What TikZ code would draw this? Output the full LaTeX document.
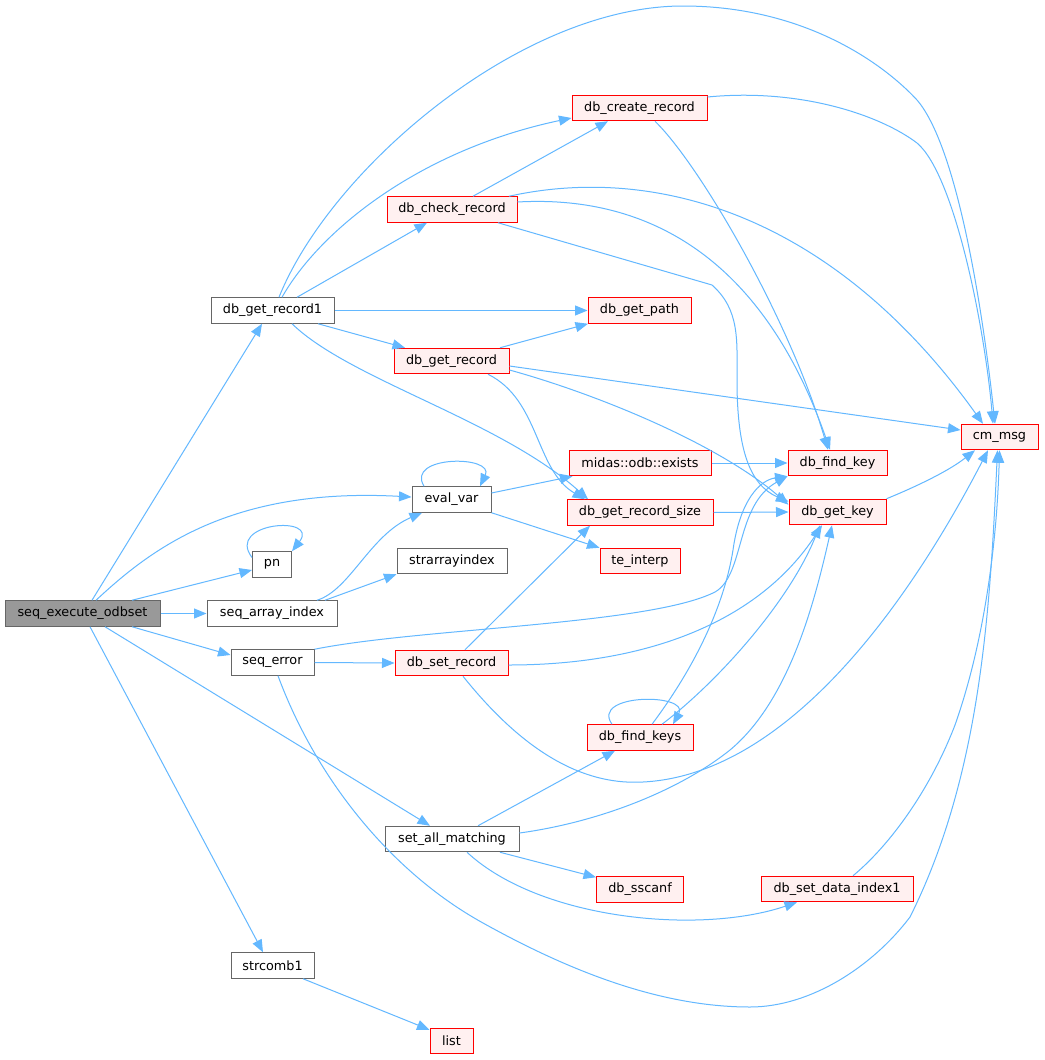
\documentclass[tikz,border=0pt]{standalone}
\usepackage{fontspec}
\setmainfont{DejaVu Sans}
\usetikzlibrary{arrows.meta}
\definecolor{edgeblue}{HTML}{63B8FF}
\definecolor{nodegray}{HTML}{666666}
\definecolor{rootfill}{HTML}{999999}
\definecolor{redfill}{HTML}{FFF0F0}
\begin{document}
\begin{tikzpicture}[x=1pt,y=-1pt,
  box/.style={draw=nodegray, fill=white, line width=1pt, minimum height=25.5pt,
    inner xsep=0pt, inner ysep=0pt, font=\fontsize{12.8}{15}\selectfont},
  rootbox/.style={box, fill=rootfill},
  redbox/.style={box, draw=red, fill=redfill},
  edge/.style={draw=edgeblue, line width=1pt, -{Triangle[length=12.5pt,width=10pt]}},
]
\fill[white] (0,0) rectangle (1044,1060);
\useasboundingbox (0,0) rectangle (1044,1060);

% nodes
\node[rootbox, minimum width=155pt] (S) at (82.5,613.5) {seq\_execute\_odbset};
\node[box, minimum width=123pt] (R1) at (272.5,310.5) {db\_get\_record1};
\node[box, minimum width=39pt] (pn) at (272,564.5) {pn};
\node[box, minimum width=130pt] (SA) at (272,613.5) {seq\_array\_index};
\node[box, minimum width=83pt] (SE) at (272.5,662.5) {seq\_error};
\node[box, minimum width=79pt] (EV) at (451.5,499.5) {eval\_var};
\node[box, minimum width=110pt] (SAI) at (452,561) {strarrayindex};
\node[box, minimum width=134pt] (SAM) at (452,839) {set\_all\_matching};
\node[box, minimum width=83pt] (SC) at (272.5,965.5) {strcomb1};
\node[redbox, minimum width=135pt] (CRe) at (639.5,108) {db\_create\_record};
\node[redbox, minimum width=130pt] (CR) at (452,209.5) {db\_check\_record};
\node[redbox, minimum width=103pt] (GP) at (639.5,310.5) {db\_get\_path};
\node[redbox, minimum width=115pt] (GR) at (451.5,361) {db\_get\_record};
\node[redbox, minimum width=142pt] (EX) at (640,463) {midas::odb::exists};
\node[redbox, minimum width=146pt] (GRS) at (640,512.5) {db\_get\_record\_size};
\node[redbox, minimum width=80pt] (TI) at (640,561) {te\_interp};
\node[redbox, minimum width=113pt] (SR) at (451.5,663) {db\_set\_record};
\node[redbox, minimum width=106pt] (FK) at (640,737.5) {db\_find\_keys};
\node[redbox, minimum width=87pt] (SS) at (640,889.5) {db\_sscanf};
\node[redbox, minimum width=43pt] (LI) at (451.5,1041) {list};
\node[redbox, minimum width=152pt] (DSI) at (837,889) {db\_set\_data\_index1};
\node[redbox, minimum width=99pt] (FKEY) at (837.5,463) {db\_find\_key};
\node[redbox, minimum width=97pt] (GK) at (837.5,512) {db\_get\_key};
\node[redbox, minimum width=77pt] (CM) at (999.5,437) {cm\_msg};

% edges from seq_execute_odbset
\draw[edge] ([xshift=9.5pt]S.north) -- ([xshift=-10.5pt]R1.south);
\draw[edge] ([xshift=13.5pt]S.north) .. controls (150,550) and (230,487) .. ([yshift=2.5pt]EV.west);
\draw[edge] ([xshift=49.5pt]S.north) -- ([yshift=-5.5pt]pn.west);
\draw[edge] (S.east) -- (SA.west);
\draw[edge] ([xshift=49.5pt]S.south) -- ([yshift=7.5pt]SE.west);
\draw[edge] ([xshift=22.5pt]S.south) -- ([xshift=-22pt]SAM.north);
\draw[edge] ([xshift=7.5pt]S.south) -- ([xshift=-9.5pt]SC.north);

% self loops
\draw[edge] ([yshift=7pt]pn.west) .. controls (225,522) and (320,515) .. (pn.north east);
\draw[edge] ([xshift=-27.5pt]EV.north) .. controls (405,455) and (495,455) .. ([xshift=28.5pt]EV.north);
\draw[edge] ([xshift=-28pt]FK.north) .. controls (590,693) and (690,693) .. ([xshift=33pt]FK.north);

% db_get_record1
\draw[edge] ([xshift=6.5pt]R1.north) .. controls (330,170) and (520,6) .. (683,6)
  .. controls (800,6) and (880,60) .. (917,100)
  .. controls (960,150) and (985,330) .. ([xshift=-4.5pt]CM.north);
\draw[edge] ([xshift=9.5pt]R1.north) .. controls (320,230) and (420,150) .. ([yshift=-10pt]CRe.west);
\draw[edge] ([xshift=24.5pt]R1.north) -- ([xshift=-25pt]CR.south);
\draw[edge] (R1.east) -- (GP.west);
\draw[edge] ([xshift=45.5pt]R1.south) -- ([xshift=-46.5pt]GR.north);
\draw[edge] ([xshift=19.5pt]R1.south) .. controls (350,380) and (500,420) .. ([xshift=-52pt]GRS.north);

% db_check_record
\draw[edge] ([xshift=21pt]CR.north) -- ([xshift=-31.5pt]CRe.south);
\draw[edge] ([xshift=57pt]CR.north) .. controls (650,165) and (830,210) .. ([xshift=-16.5pt]CM.north);
\draw[edge] ([yshift=7.5pt]CR.east) .. controls (640,195) and (760,250) .. ([xshift=-7.5pt]FKEY.north);
\draw[edge] ([xshift=46pt]CR.south) -- (712,285)
  .. controls (740,310) and (737,340) .. (737,380)
  .. controls (737,450) and (750,485) .. ([yshift=-3pt]GK.north west);

% db_create_record
\draw[edge] ([yshift=11pt]CRe.east) .. controls (800,88) and (880,115) .. (917,143)
  .. controls (955,175) and (985,330) .. ([xshift=-6.5pt]CM.north);
\draw[edge] ([xshift=15.5pt]CRe.south) .. controls (700,165) and (790,320) .. ([xshift=-9.5pt]FKEY.north);

% db_get_record
\draw[edge] ([xshift=48.5pt]GR.north) -- ([xshift=-51.5pt]GP.south);
\draw[edge] ([yshift=-5pt]GR.east) -- ([yshift=7pt]CM.west);
\draw[edge] ([yshift=-9pt]GR.east) .. controls (600,395) and (720,445) .. ([yshift=-6pt]GK.north west);
\draw[edge] ([xshift=36.5pt]GR.south) .. controls (540,400) and (535,470) .. ([xshift=-55pt]GRS.north);

% eval_var
\draw[edge] ([yshift=6.5pt]EV.east) -- ([xshift=4pt]EX.south west);
\draw[edge] (EV.south east) -- (TI.north west);

% horizontal
\draw[edge] (EX.east) -- (FKEY.west);
\draw[edge] (GRS.east) -- (GK.west);

% seq_array_index
\draw[edge] ([xshift=45pt]SA.north) .. controls (350,590) and (370,535) .. ([xshift=-29.5pt]EV.south);
\draw[edge] ([xshift=53pt]SA.north) -- (SAI.south west);

% seq_error
\draw[edge] (SE.east) -- (SR.west);
\draw[edge] (SE.north east) .. controls (420,628) and (650,625) .. (715,592)
  .. controls (745,575) and (735,505) .. (FKEY.south west);
\draw[edge] ([xshift=5.5pt]SE.south) .. controls (315,776) and (389,871) .. (483,923)
  .. controls (564,968) and (657,1007) .. (750,1007)
  .. controls (811,1007) and (873,966) .. (910,917)
  .. controls (981,775) and (990,610) .. ([xshift=-2pt]CM.south);

% db_set_record
\draw[edge] ([xshift=13.5pt]SR.north) -- ([xshift=-50pt]GRS.south);
\draw[edge] ([yshift=-2pt]SR.east) .. controls (650,665) and (760,620) .. ([xshift=-15.5pt]GK.south);
\draw[edge] ([xshift=11.5pt]SR.south) .. controls (530,760) and (590,785) .. (643,782)
  .. controls (780,775) and (900,620) .. ([xshift=-11.5pt]CM.south);

% db_find_keys
\draw[edge] ([xshift=12pt]FK.north) .. controls (700,660) and (725,600) .. (733,550)
  .. controls (740,500) and (760,480) .. (FKEY.south west);
\draw[edge] ([xshift=22pt]FK.north) .. controls (720,680) and (790,600) .. ([xshift=-17.5pt]GK.south);

% set_all_matching
\draw[edge] ([xshift=26pt]SAM.north) -- ([xshift=-25pt]FK.south);
\draw[edge] ([yshift=6pt]SAM.east) .. controls (600,822) and (680,790) .. (730,750)
  .. controls (790,700) and (815,600) .. ([xshift=-5.5pt]GK.south);
\draw[edge] ([xshift=48pt]SAM.south) -- ([yshift=-1pt]SS.north west);
\draw[edge] ([xshift=15pt]SAM.south) .. controls (540,920) and (700,935) .. ([xshift=-40pt]DSI.south);

% db_set_data_index1, db_get_key
\draw[edge] ([xshift=16pt]DSI.north) .. controls (890,845) and (930,790) .. (955,725)
  .. controls (985,640) and (997,540) .. (CM.south);
\draw[edge] (GK.north east) .. controls (920,485) and (950,470) .. ([xshift=-24.5pt]CM.south);

% strcomb1
\draw[edge] ([xshift=30.5pt]SC.south) -- ([yshift=-2pt]LI.north west);
\end{tikzpicture}
\end{document}
